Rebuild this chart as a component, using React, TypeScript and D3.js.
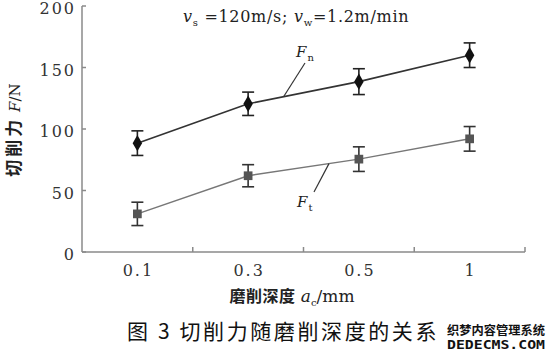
import React from "react";
import * as d3 from "d3";

const categories = ["0.1", "0.3", "0.5", "1"];
const yTicks = [0, 50, 100, 150, 200];
const fnValues = [88.5, 120.5, 138.5, 160];
const fnErrors = [10, 9.5, 10.5, 10];
const ftValues = [31, 62, 75.5, 92];
const ftErrors = [9.5, 9, 10, 10];

const W = 556;
const H = 355;
const serif = "'DejaVu Serif', 'Liberation Serif', serif";
const cjk = "'Noto Sans CJK SC', 'Noto Sans', sans-serif";

export default function App() {
  const x = d3.scaleBand<string>().domain(categories).range([82, 525]).padding(0);
  const y = d3.scaleLinear().domain([0, 200]).range([252, 6]);
  const cx = (c: string) => (x(c) as number) + x.bandwidth() / 2;

  const line = d3
    .line<number>()
    .x((_, i) => cx(categories[i]))
    .y((d) => y(d));

  const fnSeg = (t: number) => ({
    x: cx(categories[1]) + t * (cx(categories[2]) - cx(categories[1])),
    y: y(fnValues[1] + t * (fnValues[2] - fnValues[1])),
  });
  const ftSeg = (t: number) => ({
    x: cx(categories[1]) + t * (cx(categories[2]) - cx(categories[1])),
    y: y(ftValues[1] + t * (ftValues[2] - ftValues[1])),
  });
  const fnLeader = fnSeg(0.32);
  const ftLeader = ftSeg(0.73);

  const diamond = d3.symbol().type(d3.symbolDiamond).size(78)() as string;
  const square = d3.symbol().type(d3.symbolSquare).size(76)() as string;

  const errorBars = (vals: number[], errs: number[], color: string) =>
    vals.map((v, i) => {
      const px = cx(categories[i]);
      const top = y(v + errs[i]);
      const bot = y(v - errs[i]);
      return (
        <g key={i} stroke={color} strokeWidth={1.6}>
          <line x1={px} x2={px} y1={top} y2={bot} />
          <line x1={px - 6} x2={px + 6} y1={top} y2={top} />
          <line x1={px - 6} x2={px + 6} y1={bot} y2={bot} />
        </g>
      );
    });

  return (
    <svg
      width={W}
      height={H}
      style={{ position: "absolute", left: 0, top: 0, background: "#fff" }}
    >
      <rect x={0} y={0} width={W} height={H} fill="#fff" />
      {/* axes */}
      <g stroke="#8a8a8a" strokeWidth={1.5} fill="none">
        <line x1={82} x2={82} y1={y(200)} y2={y(0)} />
        <line x1={82} x2={525} y1={y(0)} y2={y(0)} />
        {yTicks.map((t) => (
          <line key={t} x1={82} x2={86} y1={y(t)} y2={y(t)} />
        ))}
        {categories.slice(1).map((c) => (
          <line key={c} x1={x(c) as number} x2={x(c) as number} y1={y(0)} y2={y(0) - 5} />
        ))}
        <line x1={525} x2={525} y1={y(0)} y2={y(0) - 5} />
      </g>
      {/* y tick labels */}
      <g fontFamily={serif} fontSize={16} fill="#333" letterSpacing={2}>
        {yTicks.map((t) => (
          <text key={t} x={76} y={y(t)} dy="0.53em" textAnchor="end">
            {t}
          </text>
        ))}
      </g>
      {/* x tick labels */}
      <g fontFamily={serif} fontSize={16} fill="#333" letterSpacing={2}>
        {categories.map((c) => (
          <text key={c} x={cx(c) + 1} y={276} textAnchor="middle">
            {c}
          </text>
        ))}
      </g>
      {/* lines */}
      <path d={line(fnValues) as string} fill="none" stroke="#333" strokeWidth={1.6} />
      <path d={line(ftValues) as string} fill="none" stroke="#777" strokeWidth={1.5} />
      {errorBars(fnValues, fnErrors, "#222")}
      {errorBars(ftValues, ftErrors, "#333")}
      {fnValues.map((v, i) => (
        <path key={i} d={diamond} transform={`translate(${cx(categories[i])},${y(v)})`} fill="#111" />
      ))}
      {ftValues.map((v, i) => (
        <path key={i} d={square} transform={`translate(${cx(categories[i])},${y(v)})`} fill="#555" />
      ))}
      {/* leader lines and series labels */}
      <line x1={fnLeader.x} y1={fnLeader.y} x2={305} y2={63} stroke="#333" strokeWidth={1.2} />
      <line x1={ftLeader.x} y1={ftLeader.y} x2={314} y2={192} stroke="#333" strokeWidth={1.2} />
      <text x={296} y={57} fontFamily={serif} fontSize={15} fontStyle="italic" fill="#222">
        F
        <tspan fontSize={10} fontStyle="normal" dy={4} dx={1}>n</tspan>
      </text>
      <text x={297} y={207} fontFamily={serif} fontSize={15} fontStyle="italic" fill="#222">
        F
        <tspan fontSize={10} fontStyle="normal" dy={4} dx={1}>t</tspan>
      </text>
      {/* top annotation */}
      <text x={183} y={22} fontFamily={serif} fontSize={16} fill="#222" letterSpacing={0.7}>
        <tspan fontStyle="italic">v</tspan>
        <tspan fontSize={10} dy={4}>s</tspan>
        <tspan dy={-4}> =120m/s; </tspan>
        <tspan fontStyle="italic">v</tspan>
        <tspan fontSize={10} dy={4}>w</tspan>
        <tspan dy={-4}>=1.2m/min</tspan>
      </text>
      {/* y axis title */}
      <text
        transform="translate(20,130) rotate(-90)"
        textAnchor="middle"
        fill="#222"
        fontSize={17}
      >
        <tspan fontFamily={cjk} fontWeight={700} letterSpacing={3}>切削力</tspan>
        <tspan fontFamily={serif} fontStyle="italic" fontSize={15}> F</tspan>
        <tspan fontFamily={serif} fontSize={15}>/N</tspan>
      </text>
      {/* x axis title */}
      <text x={292} y={302} textAnchor="middle" fill="#222">
        <tspan fontFamily={cjk} fontWeight={700} fontSize={16} letterSpacing={0.5}>磨削深度</tspan>
        <tspan fontFamily={serif} fontStyle="italic" fontSize={17}> a</tspan>
        <tspan fontFamily={serif} fontSize={10} dy={4}>c</tspan>
        <tspan fontFamily={serif} fontSize={17} dy={-4}>/mm</tspan>
      </text>
      {/* caption */}
      <text x={127} y={339} fontFamily={cjk} fontSize={21} fill="#111" letterSpacing={2.6}>
        图 3 切削力随磨削深度的关系
      </text>
      {/* watermark */}
      <text x={447} y={335} fontFamily={cjk} fontWeight={700} fontSize={12} fill="#111" textLength={98} lengthAdjust="spacingAndGlyphs">
        织梦内容管理系统
      </text>
      <text x={447} y={349} fontFamily="'DejaVu Sans Mono', monospace" fontWeight={700} fontSize={12} fill="#111" textLength={98} lengthAdjust="spacingAndGlyphs">
        DEDECMS.COM
      </text>
    </svg>
  );
}
